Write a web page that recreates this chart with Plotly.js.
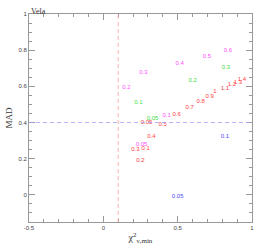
<!DOCTYPE html>
<html><head><meta charset="utf-8">
<script src="https://cdn.plot.ly/plotly-3.0.1.min.js"></script>
<style>body{margin:0;background:#fff}#c{width:266px;height:249px}</style>
</head><body><div id="c"></div>
<script>
// Magenta series
const magX = [0.155, 0.270, 0.514, 0.696, 0.838, 0.257, 0.426];
const magY = [0.594, 0.678, 0.728, 0.767, 0.800, 0.278, 0.439];
const magT = ["0.2", "0.3", "0.4", "0.5", "0.6", "0.05", "0.1"];
// Green series
const grnX = [0.236, 0.601, 0.824, 0.331];
const grnY = [0.511, 0.633, 0.706, 0.422];
const grnT = ["0.1", "0.2", "0.3", "0.05"];
// Red series
const redX = [0.291, 0.284, 0.250, 0.216, 0.324, 0.399, 0.493, 0.581, 0.655, 0.716, 0.750, 0.818, 0.865, 0.905, 0.932];
const redY = [0.400, 0.256, 0.189, 0.250, 0.322, 0.389, 0.444, 0.483, 0.517, 0.544, 0.572, 0.589, 0.611, 0.622, 0.639];
const redT = ["0.05", "0.1", "0.2", "0.3", "0.4", "0.5", "0.6", "0.7", "0.8", "0.9", "1", "1.1", "1.2", "1.3", "1.4"];
// Blue series
const bluX = [0.818, 0.500];
const bluY = [0.322, -0.011];
const bluT = ["0.1", "0.05"];
// Reference lines
const vLineX = 0.1;
const hLineY = 0.4;

const f = (c) => ({size: 6, color: c, family: "Liberation Sans, Arial, sans-serif"});
const mk = (x, y, t, c) => ({x: x, y: y, text: t, mode: "text", type: "scatter", textposition: "middle center", textfont: f(c), hoverinfo: "none", cliponaxis: false});

const data = [
  mk(redX, redY, redT, "#ff4040"),
  mk(grnX, grnY, grnT, "#40e040"),
  mk(magX, magY, magT, "#ff50ff"),
  mk(bluX, bluY, bluT, "#4848ff")
];

const axisCommon = {
  showgrid: false, zeroline: false, showline: true, linecolor: "#999", linewidth: 1,
  mirror: "ticks", ticks: "inside", ticklen: 6, tickcolor: "#999", tickwidth: 1,
  tickfont: {size: 6, color: "#444", family: "Liberation Sans, Arial, sans-serif"}
};

const layout = {
  width: 266, height: 249,
  margin: {l: 29, r: 14, t: 14, b: 27},
  paper_bgcolor: "#fff", plot_bgcolor: "#fff",
  showlegend: false,
  xaxis: Object.assign({}, axisCommon, {
    range: [-0.5, 1], tickvals: [-0.5, 0, 0.5, 1], ticktext: ["-0.5", "0", "0.5", "1"],
    minor: {dtick: 0.1, tick0: 0, ticks: "inside", ticklen: 3, tickcolor: "#999", showgrid: false},
    title: {text: "χ<sup>2</sup><sub>ν,min</sub>", font: {size: 10, color: "#333", family: "Liberation Serif, Times New Roman, serif"}, standoff: 3}
  }),
  yaxis: Object.assign({}, axisCommon, {
    range: [-0.15, 1], tickvals: [0, 0.2, 0.4, 0.6, 0.8, 1], ticktext: ["0", "0.2", "0.4", "0.6", "0.8", "1"],
    minor: {dtick: 0.05, tick0: 0, ticks: "inside", ticklen: 3, tickcolor: "#999", showgrid: false},
    title: {text: "MAD", font: {size: 9, color: "#333", family: "Liberation Serif, Times New Roman, serif"}, standoff: 4}
  }),
  shapes: [
    {type: "line", xref: "x", yref: "paper", x0: vLineX, x1: vLineX, y0: 0, y1: 1, line: {color: "#ff9a9a", width: 0.8, dash: "4px,3px"}},
    {type: "line", xref: "paper", yref: "y", x0: 0, x1: 1, y0: hLineY, y1: hLineY, line: {color: "#a0a0ff", width: 0.8, dash: "4px,3px"}}
  ],
  annotations: [
    {text: "Vela", xref: "paper", yref: "paper", x: 0, y: 1, xanchor: "left", yanchor: "bottom", showarrow: false, yshift: -4,
     font: {size: 8, color: "#333", family: "Liberation Serif, Times New Roman, serif"}}
  ]
};

Plotly.newPlot("c", data, layout, {displayModeBar: false, staticPlot: true});
</script>
</body></html>
